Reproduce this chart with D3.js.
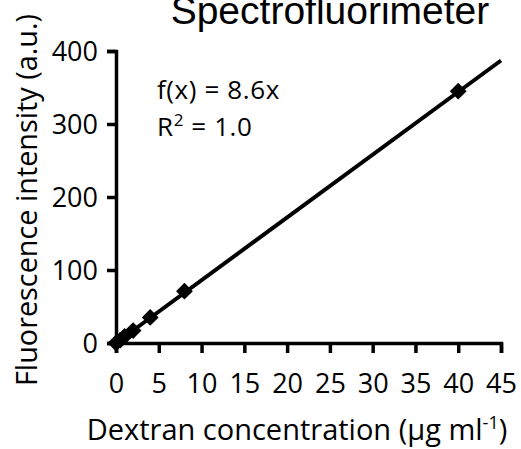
<!DOCTYPE html>
<meta charset="utf-8">
<style>
body { margin: 0; background: #fff; }
text { font-family: "Open Sans", "Noto Sans", sans-serif; fill: #000; }
.axis path, .axis line { stroke: #000; stroke-width: 3.5px; }
</style>
<body>
<script src="https://cdn.jsdelivr.net/npm/d3@7"></script>
<script>

// data
var conc = [0, 0.5, 1, 2, 4, 8, 40];
var intensity = [0, 4, 9, 17, 35, 71, 345];
var slope = 8.6;
var xTicks = [0, 5, 10, 15, 20, 25, 30, 35, 40, 45];
var yTicks = [0, 100, 200, 300, 400];

var W = 521, H = 449;
var svg = d3.select("body").append("svg")
    .attr("width", W)
    .attr("height", H);

var x = d3.scaleLinear().domain([0, 45]).range([116, 501]);
var y = d3.scaleLinear().domain([0, 400]).range([343, 51]);

// title (cut off at top like the original)
svg.append("text")
    .attr("x", 330).attr("y", 24)
    .attr("text-anchor", "middle")
    .style("font-family", "'Liberation Sans', Arial, sans-serif")
    .style("font-size", "39px")
    .text("Spectrofluorimeter");

// x axis
var xa = svg.append("g").attr("class", "axis")
    .attr("transform", "translate(0," + y(0) + ")")
    .call(d3.axisBottom(x).tickValues(xTicks).tickSize(10).tickSizeOuter(10).tickPadding(21));
xa.selectAll("text").style("font-size", "27px").attr("font-family", null);

// y axis
var ya = svg.append("g").attr("class", "axis")
    .attr("transform", "translate(" + x(0) + ",0)")
    .call(d3.axisLeft(y).tickValues(yTicks).tickSize(9).tickSizeOuter(9).tickPadding(9));
ya.selectAll("text").style("font-size", "27px").attr("font-family", null)
    .attr("dy", "0.36em");
svg.selectAll(".axis .domain").attr("fill", "none");

// fit line
svg.append("line")
    .attr("x1", x(0)).attr("y1", y(0))
    .attr("x2", x(45)).attr("y2", y(slope * 45))
    .attr("stroke", "#000").attr("stroke-width", 4);

// data markers (diamonds)
var diamond = d3.symbol().type(d3.symbolDiamond2).size(180);
svg.selectAll(".pt")
    .data(conc).enter()
    .append("path")
    .attr("class", "pt")
    .attr("d", diamond)
    .attr("transform", function(d, i) {
      return "translate(" + x(d) + "," + y(intensity[i]) + ")";
    })
    .attr("fill", "#000");

// equation
svg.append("text")
    .attr("x", 157).attr("y", 99)
    .style("font-size", "26px")
    .style("letter-spacing", "0.6px")
    .text("f(x) = " + slope + "x");
var r2 = svg.append("text")
    .attr("x", 157).attr("y", 136)
    .style("font-size", "26px")
    .style("letter-spacing", "0.6px");
r2.append("tspan").text("R");
r2.append("tspan").attr("dy", -10).style("font-size", "17px").text("2");
r2.append("tspan").attr("dy", 10).text(" = 1.0");

// axis labels
var xl = svg.append("text")
    .attr("x", 297).attr("y", 440)
    .attr("text-anchor", "middle")
    .style("font-size", "29px");
xl.append("tspan").text("Dextran concentration (\u00b5g ml");
xl.append("tspan").attr("dy", -11).style("font-size", "18px").text("-1");
xl.append("tspan").attr("dy", 11).text(")");

svg.append("text")
    .attr("transform", "translate(37,200) rotate(-90)")
    .attr("text-anchor", "middle")
    .attr("textLength", 372)
    .attr("lengthAdjust", "spacingAndGlyphs")
    .style("font-size", "30px")
    .text("Fluorescence intensity (a.u.)");

</script>
</body>
